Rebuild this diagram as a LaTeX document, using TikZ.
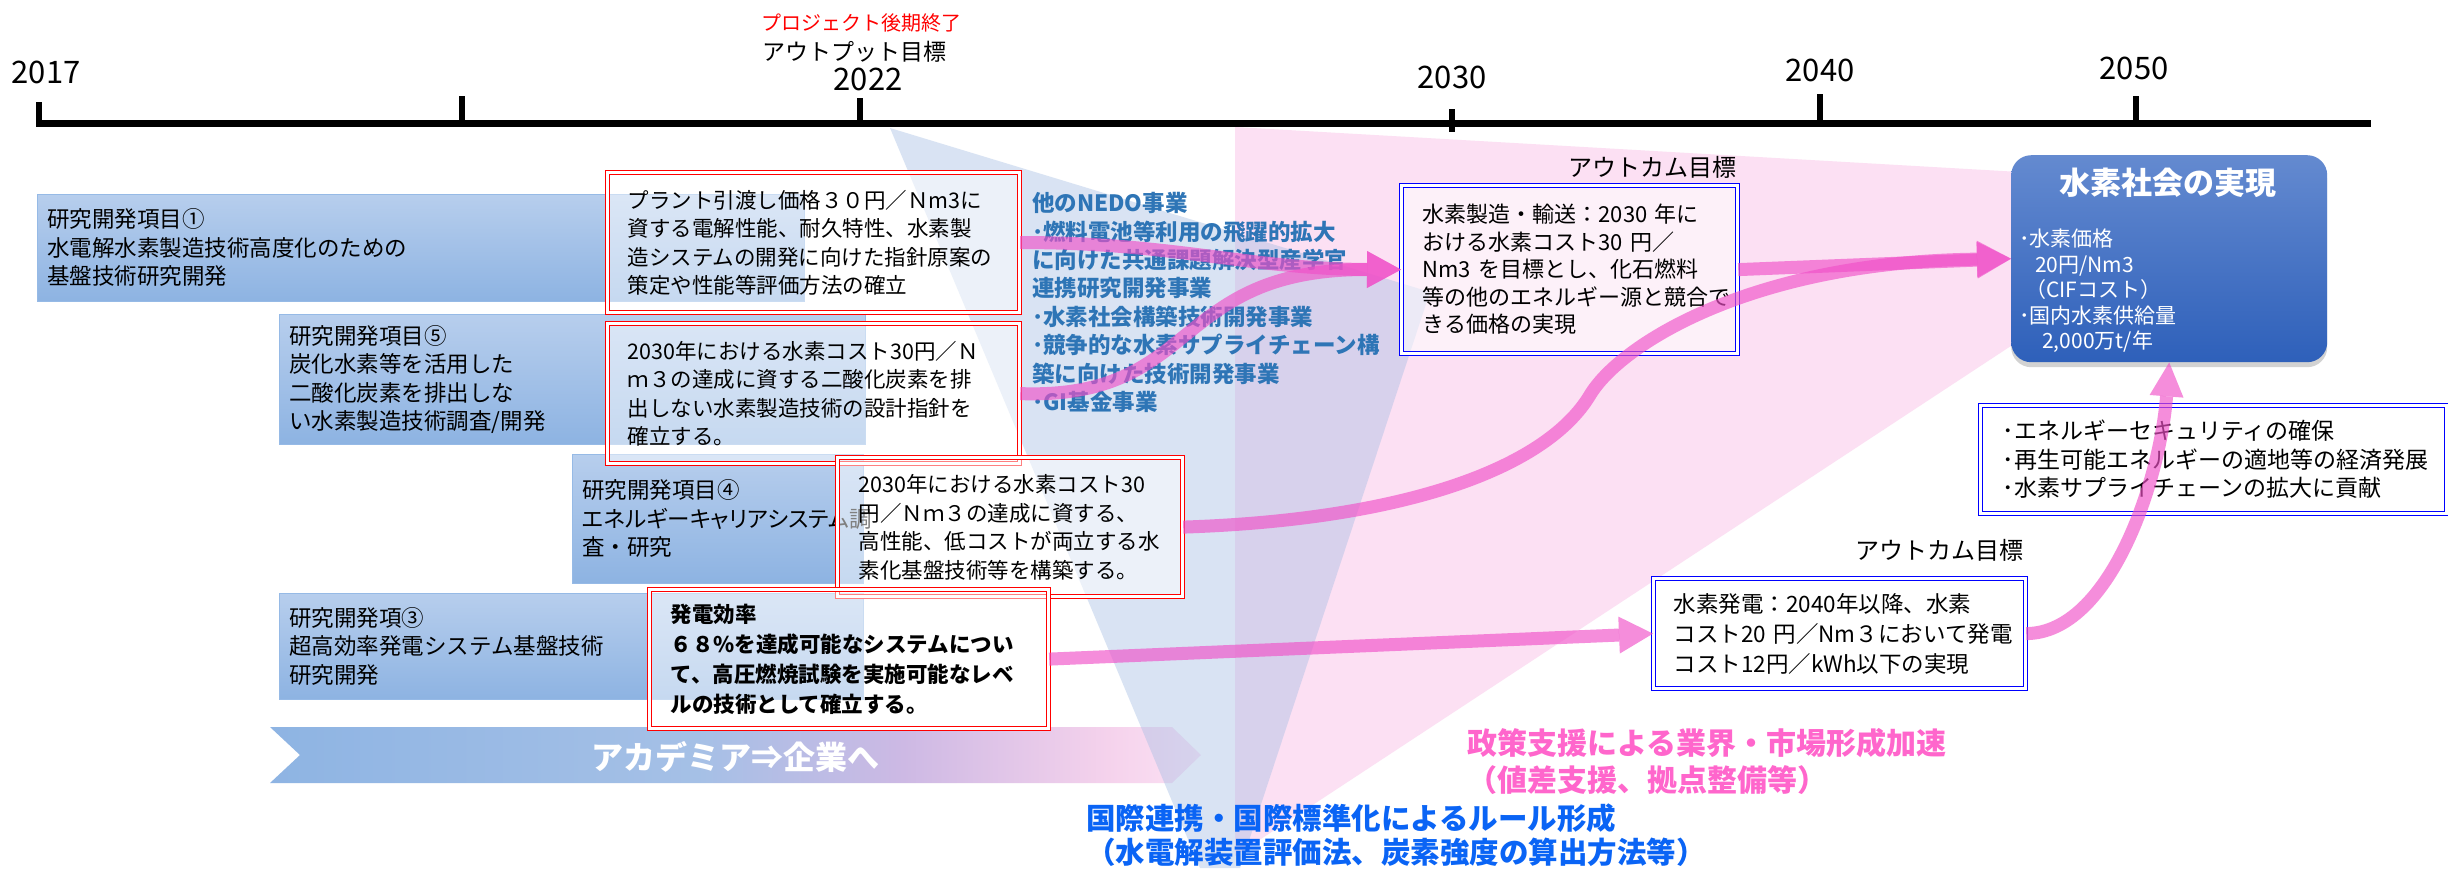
\documentclass[tikz,border=0pt]{standalone}
\usepackage{fontspec}
\setmainfont{Noto Sans CJK JP}
\usetikzlibrary{arrows.meta,shadows}
\definecolor{bbtop}{RGB}{183,206,237}
\definecolor{bbbot}{RGB}{141,179,226}
\definecolor{bbline}{RGB}{150,186,230}
\definecolor{pinkbg}{RGB}{252,224,243}
\definecolor{bluetri}{RGB}{165,190,228}
\definecolor{parrow}{RGB}{240,80,200}
\definecolor{nedo}{RGB}{46,117,182}
\definecolor{ptext}{RGB}{255,102,204}
\definecolor{btext}{RGB}{10,100,245}
\definecolor{hstop}{RGB}{100,138,208}
\definecolor{hsbot}{RGB}{46,96,186}
\definecolor{obox}{RGB}{0,0,255}
\definecolor{acA}{RGB}{142,180,227}
\definecolor{acB}{RGB}{165,192,230}
\definecolor{acC}{RGB}{205,185,228}
\definecolor{acD}{RGB}{245,210,236}
\definecolor{acE}{RGB}{252,226,244}
\pgfdeclarehorizontalshading{acad}{100bp}{color(0bp)=(acA); color(25bp)=(acA); color(48bp)=(acB); color(59bp)=(acC); color(70bp)=(acD); color(75bp)=(acE); color(100bp)=(acE)}
\tikzset{
  bluebox/.style={draw=bbline, line width=0.8pt, top color=bbtop, bottom color=bbbot, anchor=north west, align=left, inner xsep=10pt, inner ysep=0pt, font=\fontsize{22.5}{28.5}\selectfont},
  redbox/.style={draw=red, double=white, double distance=2.4pt, line width=1.2pt, fill=white, fill opacity=0.5, text opacity=1, anchor=north west, align=left, inner xsep=20pt, inner ysep=0pt, font=\fontsize{21.5}{28.5}\selectfont},
  outbox/.style={draw=obox, double=white, double distance=2.4pt, line width=1.2pt, fill=white, text opacity=1, anchor=north west, align=left, inner ysep=0pt},
  lbl/.style={inner sep=0pt, font=\fontsize{24}{28}\selectfont},
  yr/.style={inner sep=0pt, font=\fontsize{31}{36}\selectfont},
  parr/.style={draw=parrow, line width=13pt, opacity=0.65, -{Triangle[length=34pt,width=37pt,line width=0pt]}},
}
\begin{document}
\begin{tikzpicture}[x=1pt,y=-1pt]
\useasboundingbox (0,0) rectangle (2448,868);
\fill[white] (0,0) rectangle (2448,868);

% background fans
\fill[pinkbg] (1235,127) -- (2020,172) -- (2020,340) -- (1235,856) -- cycle;
\path[shading=acad] (270,727) -- (1172,727) -- (1201,755) -- (1172,783) -- (270,783) -- (300,755) -- cycle;
\node[font=\bfseries\fontsize{32}{36}\selectfont, text=white, inner sep=0pt] (acadtext) at (735,757) {アカデミア⇒企業へ};
\fill[bluetri, opacity=0.42] (890,128) -- (1430,292) -- (1240,868) -- (1200,868) -- cycle;

% timeline
\draw[line width=7pt] (36,123) -- (2371,123);
\draw[line width=6pt] (39,102) -- (39,123);
\draw[line width=6pt] (462,96) -- (462,123);
\draw[line width=6pt] (860,98) -- (860,123);
\draw[line width=6pt] (1452,109) -- (1452,132);
\draw[line width=6pt] (1820,94) -- (1820,123);
\draw[line width=6pt] (2136,96) -- (2136,123);
\node[yr] (y2017) at (46,72) {2017};
\node[yr] (y2022) at (868,79) {2022};
\node[yr] (y2030) at (1452,77) {2030};
\node[yr] (y2040) at (1820,70) {2040};
\node[yr] (y2050) at (2134,68) {2050};
\node[inner sep=0pt, font=\fontsize{23}{26}\selectfont] (outputlbl) at (854,52) {アウトプット目標};
\node[inner sep=0pt, text=red, font=\fontsize{20}{23}\selectfont] (endlbl) at (861,23) {プロジェクト後期終了};

% research items
\node[bluebox, text width=747pt, minimum height=107pt] (b1) at (37,194) {研究開発項目①\\水電解水素製造技術高度化のための\\基盤技術研究開発};
\node[bluebox, text width=566pt, minimum height=130pt] (b2) at (279,314) {研究開発項目⑤\\炭化水素等を活用した\\二酸化炭素を排出しな\\い水素製造技術調査/開発};
\node[bluebox, text width=271pt, minimum height=129pt] (b3) at (572,454) {研究開発項目④\\{\addfontfeature{RawFeature=+palt}エネルギーキャリアシステム調}\\査・研究};
\node[bluebox, text width=564pt, minimum height=106pt] (b4) at (279,593) {研究開発項③\\超高効率発電システム基盤技術\\研究開発};

% output targets
\node[redbox, text width=372pt, minimum height=140pt] (r1) at (607,172) {プラント引渡し価格３０円／Ｎm3に\\資する電解性能、耐久特性、水素製\\造システムの開発に向けた指針原案の\\策定や性能等評価方法の確立};
\node[redbox, text width=372pt, minimum height=140pt] (r2) at (607,323) {2030年における水素コスト30円／Ｎ\\ｍ３の達成に資する二酸化炭素を排\\出しない水素製造技術の設計指針を\\確立する。};
\node[redbox, inner xsep=21pt, text width=303pt, minimum height=139pt] (r3) at (837,457) {2030年における水素コスト30\\円／Ｎｍ３の達成に資する、\\高性能、低コストが両立する水\\素化基盤技術等を構築する。};
\node[redbox, inner xsep=21pt, text width=357pt, minimum height=139pt, font=\bfseries\fontsize{21.5}{30}\selectfont] (r4) at (649,589) {発電効率\\６８\%を達成可能なシステムについ\\て、高圧燃焼試験を実施可能なレベ\\ルの技術として確立する。};

% other NEDO projects
\node[anchor=west, align=left, inner sep=0pt, text=nedo, font=\bfseries\fontsize{22.5}{28.4}\selectfont] (nedo) at (1032,302.5) {他のNEDO事業\\･燃料電池等利用の飛躍的拡大\\に向けた共通課題解決型産学官\\連携研究開発事業\\･水素社会構築技術開発事業\\･競争的な水素サプライチェーン構\\築に向けた技術開発事業\\･GI基金事業};

% outcome targets
\node[outbox, fill opacity=0.55, inner xsep=21pt, text width=294pt, minimum height=168pt, font=\fontsize{22}{27.5}\selectfont] (o1) at (1401,185) {水素製造・輸送：2030~年に\\おける水素コスト30~円／\\Nm3~を目標とし、化石燃料\\等の他のエネルギー源と競合で\\きる価格の実現};
\node[lbl] (o1lbl) at (1652,167) {アウトカム目標};
\node[outbox, inner xsep=20pt, text width=332pt, minimum height=110pt, font=\fontsize{22.5}{30}\selectfont] (o2) at (1653,578) {水素発電：2040年以降、水素\\コスト20~円／Nm３において発電\\コスト12円／kWh以下の実現};
\node[lbl] (o2lbl) at (1939,550) {アウトカム目標};

% hydrogen society
\node[anchor=north west, inner sep=0pt, minimum width=316pt, minimum height=207pt, rounded corners=20pt, top color=hstop, bottom color=hsbot, drop shadow={shadow xshift=0pt, shadow yshift=-5pt, opacity=0.35}] (hs) at (2011,155) {};
\node[inner sep=0pt, text=white, font=\bfseries\fontsize{31}{36}\selectfont] (hstitle) at (2168,183) {水素社会の実現};
\node[anchor=west, align=left, inner sep=0pt, text=white, font=\fontsize{21}{25.5}\selectfont] (hslist) at (2019,291) {･水素価格\\\hspace*{16pt}20円/Nm3\\\hspace*{6pt}（CIFコスト）\\･国内水素供給量\\\hspace*{23pt}2,000万t/年};
\node[outbox, inner xsep=22pt, text width=422pt, minimum height=108pt, font=\fontsize{23}{28.5}\selectfont] (bl) at (1980,405) {･エネルギーセキュリティの確保\\･再生可能エネルギーの適地等の経済発展\\･水素サプライチェーンの拡大に貢献};

% bottom messages
\node[anchor=west, align=left, inner sep=0pt, text=ptext, font=\bfseries\fontsize{30}{37}\selectfont] (policy) at (1467,761.5) {政策支援による業界・市場形成加速\\（値差支援、拠点整備等）};
\node[anchor=west, align=left, inner sep=0pt, text=btext, font=\bfseries\fontsize{29.5}{34}\selectfont] (intl) at (1086,835) {国際連携・国際標準化によるルール形成\\（水電解装置評価法、炭素強度の算出方法等）};

% arrows
\draw[parr] (r1.east) .. controls (1170,242) and (1250,269) .. (o1.west);
\draw[parr] (r2.east) .. controls (1200,400) and (1170,269) .. (o1.west);
\draw[parr] (r3.east) .. controls (1400,520) and (1545,470) .. (1590,395) .. controls (1620,345) and (1750,262) .. (hs.west);
\draw[parr] (o1.east) -- (hs.west);
\draw[parr] (r4.east) -- (o2.west);
\draw[parr, -{Triangle[length=34pt,width=34pt,line width=0pt]}] (o2.east) .. controls (2110,633) and (2160,480) .. (hs.south);
\end{tikzpicture}
\end{document}
